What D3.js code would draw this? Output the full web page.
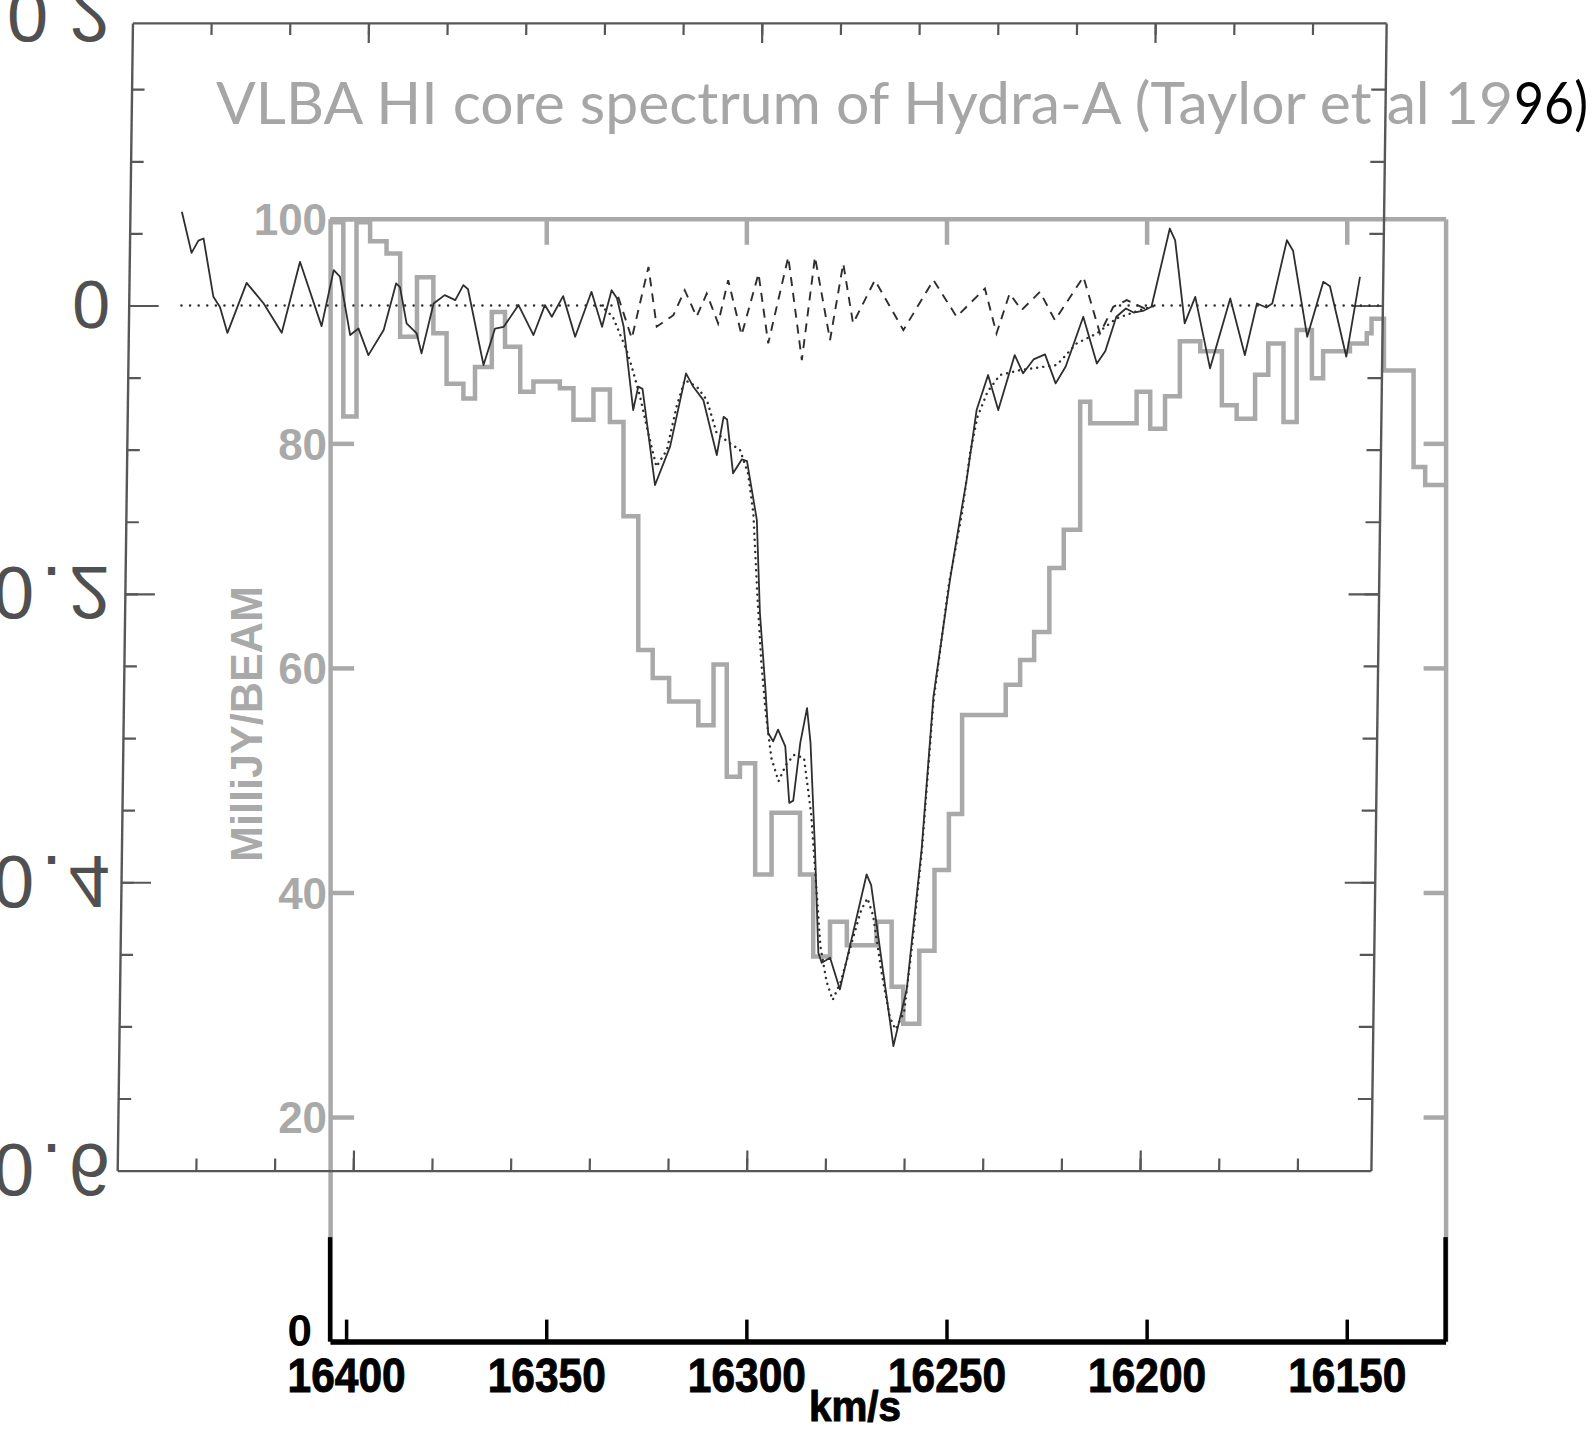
<!DOCTYPE html>
<html>
<head>
<meta charset="utf-8">
<script src="https://cdn.jsdelivr.net/npm/d3@7"></script>
<style>
  body { margin: 0; background: #fff; }
  svg { display: block; }
</style>
</head>
<body>
<div id="chart"></div>
<script>
// ---- black plot (optical depth vs velocity, scanned figure) ----
var spectrumVel = [16446.8, 16444.2, 16442.5, 16441.2, 16438.5, 16436.8, 16434.8, 16430.1, 16425.7, 16421.0,
  16416.6, 16410.9, 16408.0, 16406.4, 16403.6, 16401.5, 16398.9, 16395.1, 16392.1, 16391.1,
  16389.3, 16386.7, 16385.4, 16382.5, 16379.7, 16377.0, 16375.0, 16373.8, 16369.6, 16366.8,
  16364.6, 16360.9, 16357.0, 16354.2, 16352.4, 16349.6, 16346.4, 16342.4, 16339.6, 16337.3,
  16335.9, 16334.1, 16331.4, 16330.2, 16329.1, 16325.6, 16321.9, 16318.1, 16316.2, 16313.6,
  16310.0, 16308.4, 16307.5, 16305.8, 16303.6, 16302.3, 16299.6, 16298.5, 16296.9, 16296.0,
  16294.7, 16293.5, 16291.6, 16290.4, 16289.4, 16287.8, 16286.2, 16285.2, 16283.7, 16282.5,
  16281.6, 16279.5, 16276.9, 16270.5, 16269.3, 16263.1, 16259.9, 16256.6, 16254.1, 16250.3,
  16248.0, 16246.4, 16244.1, 16241.3, 16238.6, 16234.6, 16232.4, 16229.8, 16226.9, 16224.1,
  16221.6, 16217.3, 16213.7, 16211.6, 16208.9, 16206.5, 16204.5, 16201.9, 16200.0, 16195.6,
  16194.2, 16191.5, 16188.9, 16184.9, 16180.0, 16176.1, 16173.2, 16170.8, 16169.3, 16165.8,
  16164.2, 16160.3, 16156.4, 16154.7, 16150.3, 16147.1];
var spectrumTau = [-0.065, -0.0365, -0.045, -0.0465, -0.006, 0.001, 0.019, -0.0157, -0.0014, 0.0189,
  -0.0303, 0.0143, -0.0245, -0.02, 0.0205, 0.016, 0.0344, 0.017, -0.0153, -0.0127,
  0.0124, 0.0194, 0.0332, -0.0014, -0.0072, -0.0037, -0.0141, -0.0113, 0.0413, 0.016,
  0.0148, -0.0003, 0.0205, -0.0003, 0.0078, -0.0065, 0.0217, -0.0095, 0.0148, -0.0106,
  -0.005, 0.0148, 0.0725, 0.0563, 0.0578, 0.1245, 0.0979, 0.0471, 0.0564, 0.0656,
  0.1037, 0.0772, 0.079, 0.1164, 0.1067, 0.1079, 0.1487, 0.2133, 0.2642, 0.2965,
  0.3023, 0.2942, 0.3058, 0.345, 0.3434, 0.3034, 0.2792, 0.3032, 0.3773, 0.4489,
  0.4559, 0.4524, 0.4743, 0.3946, 0.402, 0.5136, 0.4743, 0.3773, 0.2711, 0.1903,
  0.1487, 0.121, 0.0725, 0.0482, 0.0725, 0.0344, 0.047, 0.0374, 0.0339, 0.054,
  0.0423, 0.0078, 0.0402, 0.0317, 0.0078, 0.0021, 0.0049, 0.0035, 0.0009, -0.0534,
  -0.0451, 0.0124, -0.006, 0.0436, -0.0049, 0.0344, -0.0014, 0.0014, -0.0014, -0.0453,
  -0.038, 0.0217, -0.0164, -0.0134, 0.0355, -0.0199];

// gaussian model fit (dotted)
var modelVel = [16340.0, 16336.9, 16333.3, 16331.9, 16329.7, 16327.5, 16325.3, 16322.7, 16320.4, 16318.4,
  16315.3, 16312.7, 16310.1, 16306.7, 16304.1, 16302.0, 16300.5, 16299.3, 16298.0, 16296.7,
  16295.1, 16293.2, 16291.4, 16289.4, 16286.8, 16284.8, 16283.5, 16282.0, 16280.3, 16278.7,
  16276.7, 16274.3, 16271.8, 16270.2, 16268.7, 16266.4, 16264.1, 16262.6, 16260.5, 16258.7,
  16256.5, 16254.1, 16250.6, 16247.5, 16245.6, 16243.9, 16241.4, 16238.3, 16233.2, 16223.9,
  16218.9, 16213.8, 16208.9, 16202.9, 16199.0];
var modelTau = [0, 0.0078, 0.0309, 0.0425, 0.0633, 0.0886, 0.1118, 0.1002, 0.0702, 0.0517,
  0.0563, 0.0656, 0.0886, 0.0956, 0.1002, 0.1164, 0.1441, 0.1975, 0.2468, 0.2821,
  0.3138, 0.33, 0.3188, 0.3117, 0.3138, 0.3526, 0.3949, 0.4443, 0.469, 0.4817,
  0.469, 0.4443, 0.4196, 0.4111, 0.4231, 0.4619, 0.4937, 0.5021, 0.4901, 0.4443,
  0.3773, 0.2751, 0.1939, 0.1446, 0.1023, 0.0776, 0.0599, 0.0482, 0.0448, 0.0413,
  0.0263, 0.0194, 0.009, 0.0032, 0];

// residuals (dashed)
var residVel = [16335.6, 16332.0, 16328.0, 16325.7, 16321.5, 16318.7, 16315.6, 16313.1, 16310.1, 16307.7,
  16304.1, 16300.0, 16297.3, 16292.5, 16288.7, 16285.7, 16281.6, 16278.5, 16275.8, 16270.4,
  16263.0, 16255.5, 16249.5, 16242.4, 16239.3, 16236.1, 16233.0, 16228.4, 16224.5, 16217.4,
  16213.0, 16209.7, 16206.3, 16200.8];
var residTau = [-0.0061, 0.0228, -0.0268, 0.0147, 0.0067, -0.0106, 0.0078, -0.0083, 0.0124, -0.0176,
  0.0205, -0.0222, 0.0263, -0.0337, 0.0379, -0.0337, 0.024, -0.0291, 0.0124, -0.0176,
  0.0171, -0.0176, 0.0078, -0.0118, 0.0194, -0.0083, 0.0032, -0.0095, 0.0102, -0.0199,
  0.0194, 0.0009, -0.0037, 0.0032];

// zero line pieces (dotted)
var baselineRanges = [[16446.6, 16336.0], [16208.0, 16141.0]];

var tauLabelValues = [-0.2, 0, 0.2, 0.4, 0.6];
var tauLabelText = ["0.2", "0", "0.2", "0.4", "0.6"];
var tauMinorTicks = d3.range(-0.15, 0.56, 0.05);
var tauMajorTicks = [0, 0.2, 0.4];
var velMinorTicks = d3.range(16440, 16150, -20);
var velMajorTicks = [16400, 16300, 16200];

// ---- gray plot (VLBA spectrum, histogram) ----
var histEdges = [16404.2, 16400.7, 16397.4, 16394.0, 16389.9, 16386.5, 16382.3, 16378.2, 16374.9, 16370.7,
  16367.8, 16363.6, 16360.3, 16356.5, 16353.2, 16346.6, 16343.2, 16338.2, 16334.1, 16330.7,
  16327.0, 16323.4, 16319.3, 16312.0, 16308.2, 16304.9, 16301.6, 16297.8, 16293.7, 16286.6,
  16283.3, 16279.1, 16274.9, 16267.5, 16263.7, 16260.8, 16256.8, 16253.0, 16249.4, 16246.1,
  16235.2, 16231.6, 16228.1, 16224.3, 16220.7, 16216.6, 16214.1, 16202.5, 16199.1, 16195.4,
  16191.7, 16186.6, 16181.2, 16177.5, 16172.9, 16169.6, 16165.8, 16162.5, 16158.7, 16155.9,
  16149.2, 16145.0, 16143.8, 16140.7, 16133.3, 16130.4, 16125.3];
var histFlux = [99.7, 82.4, 99.7, 98.0, 96.9, 89.5, 94.8, 89.8, 85.3, 84.0,
  86.8, 91.7, 88.6, 84.6, 85.5, 84.9, 82.1, 84.8, 81.9, 73.5,
  61.6, 59.1, 57.0, 54.9, 60.3, 50.3, 51.5, 41.6, 47.1, 41.6,
  34.3, 37.4, 35.3, 37.4, 31.6, 28.3, 34.8, 42.0, 47.0, 55.8,
  58.5, 60.7, 63.2, 68.9, 72.3, 83.7, 81.8, 84.6, 81.3, 84.2,
  89.1, 88.2, 83.4, 82.2, 86.1, 88.9, 81.9, 90.1, 85.8, 88.2,
  88.9, 89.8, 91.1, 86.5, 77.9, 76.3];

var velTickValues = [16400, 16350, 16300, 16250, 16200, 16150];
var fluxTickValues = [0, 20, 40, 60, 80, 100];

var title = "VLBA HI core spectrum of Hydra-A (Taylor et al 19";
var titleEnd = "96)";

// ---- svg ----
var svgWidth = 1596, svgHeight = 1430;
var gray = "#a9a9a9", ink = "#2e2e2e", frameInk = "#575757";

var svg = d3.select("#chart").append("svg")
  .attr("width", svgWidth)
  .attr("height", svgHeight);

svg.append("rect").attr("width", svgWidth).attr("height", svgHeight).attr("fill", "#fff");

// scales
var xBlack = d3.scaleLinear().domain([16460, 16141.3]).range([128.7, 1382.4]);
var yBlack = d3.scaleLinear().domain([-0.196, 0.6]).range([22.9, 1170.6]);
var xGray = d3.scaleLinear().domain([16404, 16125.3]).range([330.1, 1445.6]);
var yGray = d3.scaleLinear().domain([0, 100]).range([1341.6, 218.8]);

// title
svg.append("text")
  .attr("x", 216).attr("y", 124)
  .attr("font-family", "Lato, 'Open Sans', sans-serif")
  .attr("font-size", 58)
  .attr("fill", "#a6a6a6")
  .attr("textLength", 1297)
  .attr("lengthAdjust", "spacingAndGlyphs")
  .text(title);
svg.append("text")
  .attr("x", 1514).attr("y", 124)
  .attr("font-family", "Lato, 'Open Sans', sans-serif")
  .attr("font-size", 58)
  .attr("fill", "#000")
  .attr("textLength", 74)
  .attr("lengthAdjust", "spacingAndGlyphs")
  .text(titleEnd);

// ================= gray plot =================
var grayG = svg.append("g");

// histogram
var histPoints = histFlux.map(function (f, i) { return [histEdges[i], f]; });
histPoints.push([histEdges[histEdges.length - 1], histFlux[histFlux.length - 1]]);

var stepLine = d3.line()
  .x(d => xGray(d[0]))
  .y(d => yGray(d[1]))
  .curve(d3.curveStepAfter);

grayG.append("path")
  .datum(histPoints)
  .attr("d", stepLine)
  .attr("fill", "none")
  .attr("stroke", gray)
  .attr("stroke-width", 4.5);

// top axis (gray), ticks pointing down
var grayTop = grayG.append("g")
  .attr("transform", `translate(0, ${yGray(100)})`)
  .call(d3.axisTop(xGray).tickValues(velTickValues.slice(1)).tickSizeInner(-26).tickSizeOuter(0).tickFormat(""));
grayTop.selectAll("path, line").attr("stroke", gray).attr("stroke-width", 4.5);

// left axis (gray with labels)
var grayLeft = grayG.append("g")
  .attr("transform", `translate(${xGray(16404)}, 0)`)
  .call(d3.axisLeft(yGray).tickValues(fluxTickValues).tickSizeInner(-24).tickSizeOuter(0).tickPadding(3));
grayLeft.selectAll("path, line").attr("stroke", gray).attr("stroke-width", 4.5);
grayLeft.selectAll("text")
  .attr("font-family", "'Liberation Sans', Arial, sans-serif")
  .attr("font-weight", "bold")
  .attr("font-size", 44)
  .attr("fill", d => d === 0 ? "#000" : gray)
  .attr("dx", d => d === 0 ? -15 : 0)
  .attr("dy", d => d === 0 ? "0.08em" : "0.36em");

// right axis (gray)
var grayRight = grayG.append("g")
  .attr("transform", `translate(${xGray(16125.3)}, 0)`)
  .call(d3.axisRight(yGray).tickValues(fluxTickValues.slice(1, 5)).tickSizeInner(-22).tickSizeOuter(0).tickFormat(""));
grayRight.selectAll("path, line").attr("stroke", gray).attr("stroke-width", 4.5);

// lower part of both verticals is black in the picture
[16404, 16125.3].forEach(function (v) {
  grayG.append("line")
    .attr("x1", xGray(v)).attr("x2", xGray(v))
    .attr("y1", yGray(9.3)).attr("y2", yGray(0))
    .attr("stroke", "#000").attr("stroke-width", 4.5);
});

// bottom axis (black, bold labels)
var grayBottom = grayG.append("g")
  .attr("transform", `translate(0, ${yGray(0)})`)
  .call(d3.axisBottom(xGray).tickValues(velTickValues).tickSizeInner(-22).tickSizeOuter(0)
    .tickPadding(16).tickFormat(d3.format("d")));
grayBottom.selectAll("path").attr("stroke", "#000").attr("stroke-width", 5.5);
grayBottom.selectAll("line").attr("stroke", "#000").attr("stroke-width", 3.5);
grayBottom.selectAll("text")
  .attr("font-family", "'Liberation Sans', Arial, sans-serif")
  .attr("font-weight", "bold")
  .attr("font-size", 48)
  .attr("fill", "#000")
  .attr("stroke", "#000")
  .attr("stroke-width", 1)
  .attr("textLength", 118)
  .attr("lengthAdjust", "spacingAndGlyphs");

grayG.append("text")
  .attr("x", 855).attr("y", 1421)
  .attr("text-anchor", "middle")
  .attr("font-family", "'Liberation Sans', Arial, sans-serif")
  .attr("font-weight", "bold")
  .attr("font-size", 42)
  .attr("stroke", "#000").attr("stroke-width", 1)
  .attr("textLength", 92)
  .attr("lengthAdjust", "spacingAndGlyphs")
  .text("km/s");

// rotated unit label
grayG.append("text")
  .attr("transform", "translate(246, 724) rotate(-90)")
  .attr("text-anchor", "middle")
  .attr("dy", "0.36em")
  .attr("font-family", "'Liberation Sans', Arial, sans-serif")
  .attr("font-weight", "bold")
  .attr("font-size", 44)
  .attr("fill", gray)
  .attr("textLength", 276)
  .attr("lengthAdjust", "spacingAndGlyphs")
  .text("MilliJY/BEAM");

// ================= black plot (scanned, slightly sheared) =================
var y0 = yBlack(0);
var shear = -Math.atan(15 / 1128) * 180 / Math.PI;
var blackG = svg.append("g")
  .attr("transform", `translate(0, ${y0}) skewX(${shear}) translate(0, ${-y0})`);

function frameAxis(axis, major, tx, ty, len) {
  var g = blackG.append("g")
    .attr("transform", `translate(${tx}, ${ty})`)
    .call(axis.tickSizeInner(-len).tickSizeOuter(0).tickFormat(""));
  g.selectAll("path").attr("stroke", frameInk).attr("stroke-width", major ? 0 : 2.4);
  g.selectAll("line").attr("stroke", frameInk).attr("stroke-width", 2.2);
  return g;
}

var xL = xBlack(16460), xR = xBlack(16141.3), yT = yBlack(-0.196), yB = yBlack(0.6);

frameAxis(d3.axisBottom(xBlack).tickValues(velMinorTicks), false, 0, yB, 12);
frameAxis(d3.axisBottom(xBlack).tickValues(velMajorTicks), true, 0, yB, 20);
frameAxis(d3.axisTop(xBlack).tickValues(velMinorTicks), false, 0, yT, 12);
frameAxis(d3.axisTop(xBlack).tickValues(velMajorTicks), true, 0, yT, 20);
frameAxis(d3.axisLeft(yBlack).tickValues(tauMinorTicks), false, xL, 0, 13);
frameAxis(d3.axisLeft(yBlack).tickValues(tauMajorTicks), true, xL, 0, 30);
frameAxis(d3.axisRight(yBlack).tickValues(tauMinorTicks), false, xR, 0, 14);
frameAxis(d3.axisRight(yBlack).tickValues(tauMajorTicks), true, xR, 0, 30);

var tauLine = d3.line()
  .x(d => xBlack(d[0]))
  .y(d => yBlack(d[1]));

// zero line
blackG.selectAll(".baseline")
  .data(baselineRanges)
  .enter()
  .append("path")
  .attr("class", "baseline")
  .attr("d", d => tauLine([[d[0], 0], [d[1], 0]]))
  .attr("fill", "none")
  .attr("stroke", ink)
  .attr("stroke-width", 2.4)
  .attr("stroke-linecap", "round")
  .attr("stroke-dasharray", "0.1 8.5");

// residuals
blackG.append("path")
  .datum(d3.zip(residVel, residTau))
  .attr("d", tauLine)
  .attr("fill", "none")
  .attr("stroke", ink)
  .attr("stroke-width", 1.9)
  .attr("stroke-dasharray", "9 7");

// model
blackG.append("path")
  .datum(d3.zip(modelVel, modelTau))
  .attr("d", tauLine)
  .attr("fill", "none")
  .attr("stroke", ink)
  .attr("stroke-width", 2.4)
  .attr("stroke-linecap", "round")
  .attr("stroke-dasharray", "0.1 6");

// observed spectrum
blackG.append("path")
  .datum(d3.zip(spectrumVel, spectrumTau))
  .attr("d", tauLine)
  .attr("fill", "none")
  .attr("stroke", ink)
  .attr("stroke-width", 1.8)
  .attr("stroke-linejoin", "round");

// left labels of the scanned plot (printed upside down, clipped at the page edge)
svg.selectAll(".taulabel")
  .data(tauLabelValues)
  .enter()
  .append("text")
  .attr("class", "taulabel")
  .attr("transform", d => `translate(110, ${yBlack(d)}) scale(1, -1)`)
  .attr("text-anchor", "end")
  .attr("dy", "0.36em")
  .attr("font-family", "'Liberation Sans', Arial, sans-serif")
  .attr("font-size", d => d === 0 ? 68 : 74)
  .attr("fill", "#505050")
  .attr("textLength", d => d === 0 ? null : (d < 0 ? 103 : 117))
  .attr("lengthAdjust", "spacing")
  .text((d, i) => tauLabelText[i]);
</script>
</body>
</html>
